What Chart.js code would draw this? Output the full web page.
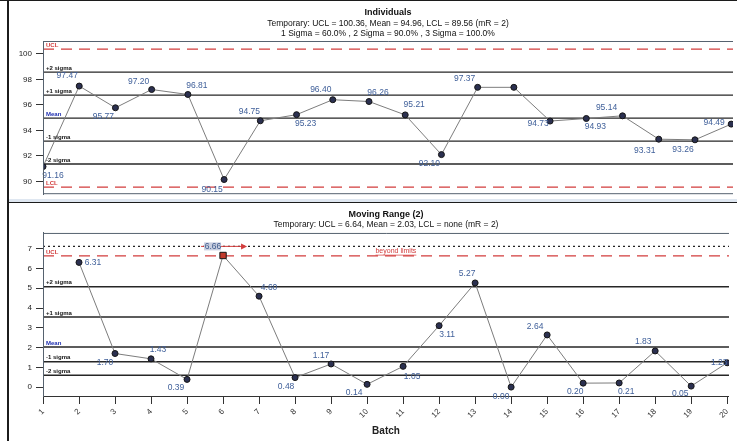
<!DOCTYPE html>
<html><head><meta charset="utf-8">
<script src="https://cdn.jsdelivr.net/npm/chart.js@4/dist/chart.umd.min.js"></script>
<style>
html,body{margin:0;padding:0;background:#fff;width:737px;height:441px;overflow:hidden;}
#wrap{position:relative;width:737px;height:441px;background:#fff;}
#c1{position:absolute;left:0;top:0;}
#c2{position:absolute;left:0;top:203px;}
.ln{position:absolute;background:#1c1c1c;}
.band{position:absolute;background:#dfe7f1;}
</style></head>
<body><div id="wrap">
<canvas id="c1" width="737" height="203"></canvas>
<canvas id="c2" width="737" height="238"></canvas>
<div class="band" style="left:9px;top:199px;width:728px;height:3px"></div>
<div class="ln" style="left:9px;top:202px;width:728px;height:1px"></div>
<div class="ln" style="left:0;top:0;width:737px;height:1px"></div>
<div class="ln" style="left:7px;top:0;width:2px;height:441px"></div>
</div>
<script>
// ---------------- data ----------------
const batches = [1,2,3,4,5,6,7,8,9,10,11,12,13,14,15,16,17,18,19,20];
const individuals = [91.16,97.47,95.77,97.20,96.81,90.15,94.75,95.23,96.40,96.26,95.21,92.10,97.37,97.37,94.73,94.93,95.14,93.31,93.26,94.49];
const movingRanges = [null,6.31,1.70,1.43,0.39,6.66,4.60,0.48,1.17,0.14,1.05,3.11,5.27,0.00,2.64,0.20,0.21,1.83,0.05,1.23];
const indTitle = 'Individuals';
const indSubtitle = ['Temporary: UCL = 100.36, Mean = 94.96, LCL = 89.56 (mR = 2)', '1 Sigma = 60.0% , 2 Sigma = 90.0% , 3 Sigma = 100.0%'];
const mrTitle = 'Moving Range (2)';
const mrSubtitle = ['Temporary: UCL = 6.64, Mean = 2.03, LCL = none (mR = 2)'];
const indYTicks = [90,92,94,96,98,100];
const mrYTicks = [0,1,2,3,4,5,6,7];
const xAxisTitle = 'Batch';
const indLimitNames = ['UCL','+2 sigma','+1 sigma','Mean','-1 sigma','-2 sigma','LCL'];
const indLimitValues = [100.36,98.56,96.76,94.96,93.16,91.36,89.56];
const mrLimitNames = ['UCL','+2 sigma','+1 sigma','Mean','-1 sigma','-2 sigma'];
const mrLimitValues = [6.64,5.08,3.55,2.03,1.28,0.60];
const mrBeyondLevel = 7.12;
const mrBeyondText = 'beyond limits';
const mrBeyondTextX = 10.8;

// ---------------- style ----------------
const FONT = '"Liberation Sans", Arial, sans-serif';
const X_MIN = 1, X_MAX = 20.05;
const indLabelOffsets = [[10,9],[-12,-10],[-12,9],[-13,-8],[9,-9],[-12,10],[-11,-9],[9,9],[-12,-10],[9,-9],[9,-10],[-12,9],[-13,-9],null,[-12,3],[9,8],[-16,-8],[-14,11],[-12,10],[-17,-1]];
const mrLabelOffsets = [null,[14,0],[-10,9],[7,-9],[-11,8],null,[10,-9],[-9,9],[-10,-8],[-13,8],[9,10],[8,9],[-8,-9],[-10,10],[-12,-8],[-8,9],[7,9],[-12,-9],[-11,8],[-8,0]];

function limitStyle(name){
  if(name==='UCL'||name==='LCL') return {borderColor:'#d23c3c',borderDash:[11,7],borderWidth:1.3};
  return {borderColor:'#262626',borderDash:[],borderWidth:1.4};
}
function limitDatasets(names, values){
  return values.map((v,k)=>Object.assign({
    data:[{x:X_MIN,y:v},{x:X_MAX,y:v}], pointRadius:0, fill:false, order:2, tension:0
  }, limitStyle(names[k])));
}
const framePlugin = {
  id:'frame',
  beforeDraw(chart){
    const {ctx, chartArea:a} = chart;
    ctx.save(); ctx.fillStyle='#fff'; ctx.fillRect(a.left,a.top,a.right-a.left,a.bottom-a.top); ctx.restore();
  },
  afterDraw(chart){
    const {ctx, chartArea:a} = chart;
    ctx.save(); ctx.strokeStyle='#56626f'; ctx.lineWidth=1;
    ctx.beginPath(); ctx.moveTo(a.left+0.5,a.bottom); ctx.lineTo(a.left+0.5,a.top+0.5); ctx.lineTo(a.right,a.top+0.5);
    if(chart.canvas.id==='c1'){ ctx.moveTo(a.left,a.bottom-0.5); ctx.lineTo(a.right,a.bottom-0.5); }
    ctx.stroke(); ctx.restore();
  }
};
function limitLabelPlugin(names, values){
  return {
    id:'limitLabels',
    afterDatasetsDraw(chart){
      const {ctx, chartArea:a, scales:{y}} = chart;
      ctx.save(); ctx.font='bold 6px '+FONT; ctx.textAlign='left'; ctx.textBaseline='bottom';
      names.forEach((n,k)=>{
        ctx.fillStyle = (n==='UCL'||n==='LCL') ? '#d23c3c' : (n==='Mean' ? '#1f2fb0' : '#111');
        ctx.fillText(n, a.left+3, y.getPixelForValue(values[k])-1);
      });
      ctx.restore();
    }
  };
}
function pointLabelPlugin(values, offsets, ucl){
  return {
    id:'pointLabels',
    afterDatasetsDraw(chart){
      const {ctx, scales:{x,y}} = chart;
      ctx.save(); ctx.font='8.5px '+FONT; ctx.textAlign='center'; ctx.textBaseline='middle';
      values.forEach((v,i)=>{
        if(v===null) return;
        const px = x.getPixelForValue(batches[i]), py = y.getPixelForValue(v);
        if(ucl!==undefined && v>ucl){
          const ly = y.getPixelForValue(mrBeyondLevel);
          ctx.strokeStyle='#d23c3c'; ctx.fillStyle='#d23c3c'; ctx.lineWidth=1;
          ctx.beginPath(); ctx.moveTo(px-22,ly); ctx.lineTo(px+22,ly); ctx.stroke();
          ctx.beginPath(); ctx.moveTo(px+24,ly); ctx.lineTo(px+18,ly-3); ctx.lineTo(px+18,ly+3); ctx.closePath(); ctx.fill();
          ctx.fillStyle='#c9cfe0'; ctx.fillRect(px-19,ly-4,17,8);
          ctx.fillStyle='#3e5a8c'; ctx.fillText(v.toFixed(2), px-10, ly);
          return;
        }
        const o = offsets[i]; if(!o) return;
        ctx.fillStyle='#40609a';
        ctx.fillText(v.toFixed(2), px+o[0], py+o[1]);
      });
      if(ucl!==undefined){
        ctx.font='7px '+FONT; ctx.fillStyle='#d23c3c';
        const tx = x.getPixelForValue(mrBeyondTextX), ty = (y.getPixelForValue(mrBeyondLevel)+y.getPixelForValue(ucl))/2;
        ctx.fillText(mrBeyondText, tx, ty);
        const w = ctx.measureText(mrBeyondText).width;
        ctx.strokeStyle='#d23c3c'; ctx.lineWidth=0.7; ctx.beginPath(); ctx.moveTo(tx-w/2,ty+4); ctx.lineTo(tx+w/2,ty+4); ctx.stroke();
      }
      ctx.restore();
    }
  };
}
function yAxis(min,max,ticks){
  return {min, max,
    afterFit(s){ s.width = 43; },
    afterBuildTicks(s){ s.ticks = ticks.map(v=>({value:v})); },
    ticks:{font:{family:FONT,size:8},color:'#222',padding:4},
    grid:{drawOnChartArea:false,tickLength:7,color:'#333'},
    border:{color:'#56626f'}
  };
}
const seriesStyle = {borderColor:'#7d7d7d',borderWidth:1,pointRadius:3,pointHoverRadius:3,
  pointBackgroundColor:'#2b3050',pointBorderColor:'#151515',pointBorderWidth:1,order:0,tension:0,fill:false};

Chart.defaults.font.family = FONT;

new Chart(document.getElementById('c1'), {
  type:'line',
  data:{datasets:[
    Object.assign({data: batches.map((b,i)=>({x:b,y:individuals[i]}))}, seriesStyle),
    ...limitDatasets(indLimitNames, indLimitValues)
  ]},
  options:{
    responsive:false, animation:false, devicePixelRatio:1,
    layout:{padding:{left:0,right:0,top:0,bottom:5}},
    plugins:{legend:{display:false}, tooltip:{enabled:false},
      title:{display:true,text:indTitle,fullSize:false,color:'#111',font:{family:FONT,size:9,weight:'bold',lineHeight:1.2},padding:{top:7.6,bottom:0}},
      subtitle:{display:true,text:indSubtitle,fullSize:false,color:'#111',font:{family:FONT,size:8.5,lineHeight:1.1},padding:{top:0.9,bottom:3}}
    },
    scales:{
      x:{type:'linear',min:X_MIN,max:X_MAX,display:false},
      y:yAxis(89,101,indYTicks)
    }
  },
  plugins:[framePlugin, limitLabelPlugin(indLimitNames, indLimitValues), pointLabelPlugin(individuals, indLabelOffsets)]
});

const mrUCL = mrLimitValues[0];
new Chart(document.getElementById('c2'), {
  type:'line',
  data:{datasets:[
    Object.assign({}, seriesStyle, {
      data: batches.map((b,i)=>({x:b,y:movingRanges[i]})).filter(p=>p.y!==null),
      pointStyle: c => (c.raw && c.raw.y>mrUCL) ? 'rect' : 'circle',
      pointRadius: c => (c.raw && c.raw.y>mrUCL) ? 4.5 : 3,
      pointBackgroundColor: c => (c.raw && c.raw.y>mrUCL) ? '#c0392b' : '#2b3050'
    }),
    {data:[{x:X_MIN,y:mrBeyondLevel},{x:X_MAX,y:mrBeyondLevel}],borderColor:'#222',borderDash:[2,3],borderWidth:1.2,pointRadius:0,order:2},
    ...limitDatasets(mrLimitNames, mrLimitValues)
  ]},
  options:{
    responsive:false, animation:false, devicePixelRatio:1,
    layout:{padding:{left:0,right:0,top:0,bottom:0}},
    plugins:{legend:{display:false}, tooltip:{enabled:false},
      title:{display:true,text:mrTitle,fullSize:false,color:'#111',font:{family:FONT,size:9,weight:'bold',lineHeight:1.2},padding:{top:6.6,bottom:0}},
      subtitle:{display:true,text:mrSubtitle,fullSize:false,color:'#111',font:{family:FONT,size:8.5,lineHeight:1.1},padding:{top:0,bottom:3.2}}
    },
    scales:{
      x:{type:'linear',min:X_MIN,max:X_MAX,
        afterFit(s){ s.height = 45; },
        afterBuildTicks(s){ s.ticks = batches.map(v=>({value:v})); },
        ticks:{minRotation:45,maxRotation:45,autoSkip:false,font:{family:FONT,size:8},color:'#333',padding:3},
        grid:{drawOnChartArea:false,tickLength:8,color:'#333'},
        border:{color:'#333'},
        title:{display:true,text:xAxisTitle,color:'#222',font:{family:FONT,size:10,weight:'bold'},padding:{top:0,bottom:4}}
      },
      y:yAxis(-0.45,7.8,mrYTicks)
    }
  },
  plugins:[framePlugin, limitLabelPlugin(mrLimitNames, mrLimitValues), pointLabelPlugin(movingRanges, mrLabelOffsets, mrUCL)]
});
</script>
</body></html>
